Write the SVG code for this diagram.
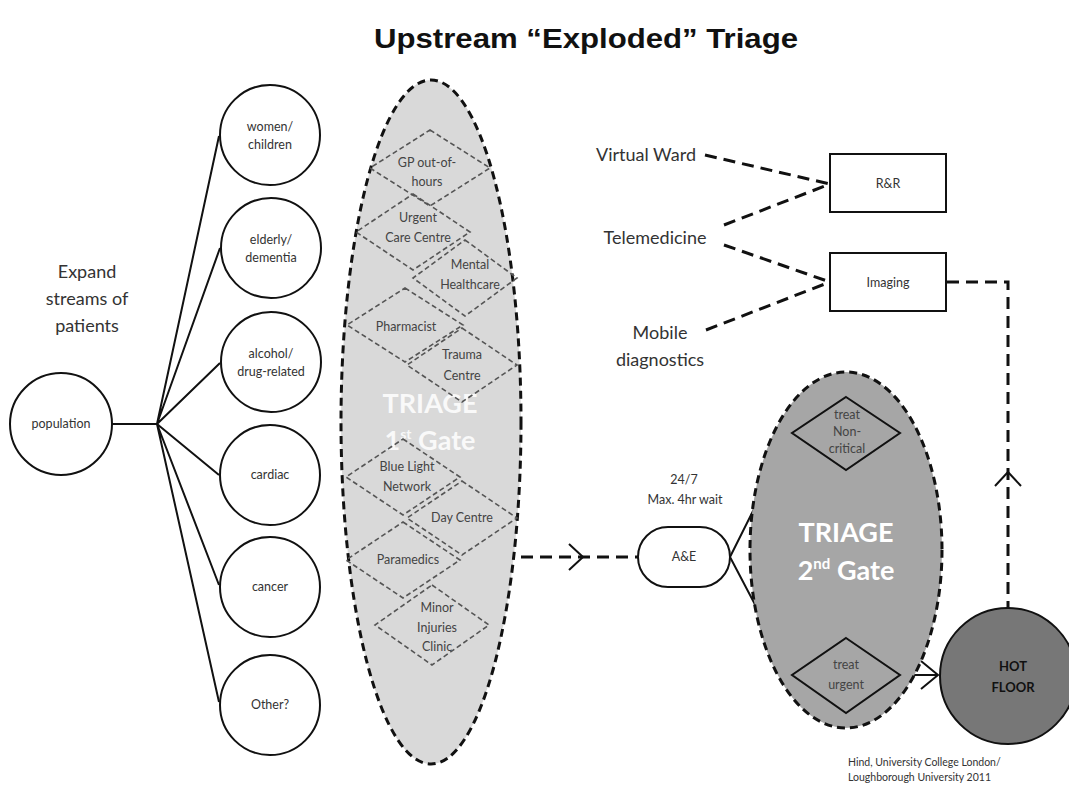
<svg xmlns="http://www.w3.org/2000/svg" width="1069" height="792" viewBox="0 0 1069 792">
<defs>
<style>
.c{fill:#fff;stroke:#111;stroke-width:2}
.t{font-family:Lato,"Open Sans",sans-serif;fill:#333;text-anchor:middle}
.s{font-size:12.5px}
.m{font-size:18px}
.d{fill:none;stroke:#555;stroke-width:1.6;stroke-dasharray:5,3}
.dt{font-family:Lato,"Open Sans",sans-serif;fill:#444;text-anchor:middle;font-size:12.5px}
.ln{fill:none;stroke:#111;stroke-width:2}
.dl{fill:none;stroke:#111;stroke-width:3;stroke-dasharray:12,7}
.w{font-family:Lato,"Open Sans",sans-serif;fill:#fff;font-weight:bold;text-anchor:middle}
</style>
</defs>
<rect width="1069" height="792" fill="#fff"/>
<text id="title" x="586" y="48" font-family="Liberation Sans,Arial,sans-serif" font-weight="bold" font-size="28" text-anchor="middle" textLength="424" lengthAdjust="spacingAndGlyphs" fill="#111">Upstream “Exploded” Triage</text>

<g id="connectors">
<path class="ln" d="M112,424 H157 M157,424 L219,136 M157,424 L220,248 M157,424 L220,363 M157,424 L219,475 M157,424 L219,585 M157,424 L219,702"/>
<path class="dl" d="M521,557 H638"/>
<polyline class="ln" points="569,544 583,557 569,570" stroke-width="2.5"/>
<path class="ln" d="M730,557 L792,433 M730,557 L792,675 M900,675 H938"/>
<polyline class="ln" points="921,661 938,675 921,689" stroke-width="2.5"/>
<path class="dl" d="M705,155 L830,184 M724,225 L830,184 M724,245 L830,282 M706,330 L830,282"/>
<path class="dl" d="M947,282 H1008 V608"/>
<polyline class="ln" points="995,486 1008,472 1021,486" stroke-width="2.5"/>
</g>

<g id="expand"><text class="t m" x="87" y="278">Expand</text><text class="t m" x="87" y="305">streams of</text><text class="t m" x="87" y="332">patients</text></g>

<g id="population"><circle class="c" cx="61" cy="424" r="51"/><text class="t s" x="61" y="428">population</text></g>
<g id="women"><circle class="c" cx="270" cy="135" r="50"/><text class="t s" x="270" y="131">women/</text><text class="t s" x="270" y="149">children</text></g>
<g id="elderly"><circle class="c" cx="271" cy="248" r="50"/><text class="t s" x="271" y="244">elderly/</text><text class="t s" x="271" y="262">dementia</text></g>
<g id="alcohol"><circle class="c" cx="271" cy="362" r="50"/><text class="t s" x="271" y="358">alcohol/</text><text class="t s" x="271" y="376">drug-related</text></g>
<g id="cardiac"><circle class="c" cx="270" cy="475" r="50"/><text class="t s" x="270" y="479">cardiac</text></g>
<g id="cancer"><circle class="c" cx="270" cy="587" r="50"/><text class="t s" x="270" y="591">cancer</text></g>
<g id="other"><circle class="c" cx="270" cy="705" r="50"/><text class="t s" x="270" y="709">Other?</text></g>

<g id="triage1">
<ellipse cx="431" cy="422" rx="90" ry="342" fill="#d9d9d9" stroke="#111" stroke-width="3" stroke-dasharray="8,5"/>
<text class="w" x="430" y="413" font-size="27" fill-opacity="0.85">TRIAGE</text>
<text class="w" x="430" y="450" font-size="27" fill-opacity="0.85">1<tspan font-size="14" dy="-11">st</tspan><tspan dy="11"> Gate</tspan></text>
<g id="gp"><polygon class="d" points="430,130 490,168 430,206 370,168"/><text class="dt" x="427" y="167">GP out-of-</text><text class="dt" x="427" y="186">hours</text></g>
<g id="urgent"><polygon class="d" points="413,194 470,232 413,270 356,232"/><text class="dt" x="418" y="222">Urgent</text><text class="dt" x="418" y="242">Care Centre</text></g>
<g id="mental"><polygon class="d" points="465,240 517,278 465,316 413,278"/><text class="dt" x="470" y="269">Mental</text><text class="dt" x="470" y="289">Healthcare</text></g>
<g id="pharmacist"><polygon class="d" points="405,288 463,325 405,362 347,325"/><text class="dt" x="406" y="331">Pharmacist</text></g>
<g id="trauma"><polygon class="d" points="462,328 517,365 462,402 407,365"/><text class="dt" x="462" y="359">Trauma</text><text class="dt" x="462" y="380">Centre</text></g>
<g id="bluelight"><polygon class="d" points="403,439 460,477 403,515 346,477"/><text class="dt" x="407" y="471">Blue Light</text><text class="dt" x="407" y="491">Network</text></g>
<g id="daycentre"><polygon class="d" points="462,481 517,518 462,555 407,518"/><text class="dt" x="462" y="522">Day Centre</text></g>
<g id="paramedics"><polygon class="d" points="403,522 460,560 403,598 346,560"/><text class="dt" x="408" y="564">Paramedics</text></g>
<g id="minor"><polygon class="d" points="432,585 489,625 432,665 375,625"/><text class="dt" x="437" y="612">Minor</text><text class="dt" x="437" y="632">Injuries</text><text class="dt" x="437" y="651">Clinic</text></g>
</g>

<g id="ae"><rect class="c" x="638" y="527" width="92" height="60" rx="30"/><text class="t s" x="684" y="561">A&amp;E</text></g>
<g id="wait"><text class="t s" x="684" y="484">24/7</text><text class="t s" x="685" y="504">Max. 4hr wait</text></g>

<g id="triage2">
<ellipse cx="846" cy="550" rx="96" ry="178" fill="#a6a6a6" stroke="#111" stroke-width="3" stroke-dasharray="8,5"/>
<text class="w" x="846" y="542" font-size="27">TRIAGE</text>
<text class="w" x="846" y="580" font-size="27">2<tspan font-size="15" dy="-11">nd</tspan><tspan dy="11"> Gate</tspan></text>
</g>
<g id="noncritical"><polygon fill="#a6a6a6" stroke="#111" stroke-width="2" points="846,397 900,433 846,470 792,433"/><text class="dt" x="847" y="419" font-size="11">treat</text><text class="dt" x="847" y="436" font-size="11">Non-</text><text class="dt" x="847" y="453" font-size="11">critical</text></g>
<g id="urgenttreat"><polygon fill="#a6a6a6" stroke="#111" stroke-width="2" points="846,638 900,675 846,713 792,675"/><text class="dt" x="846" y="669" font-size="11">treat</text><text class="dt" x="846" y="689" font-size="11">urgent</text></g>

<g id="hotfloor"><circle cx="1008" cy="676" r="68" fill="#777" stroke="#111" stroke-width="2"/><text x="1013" y="671" font-family="Lato,'Open Sans',sans-serif" font-weight="bold" font-size="13" text-anchor="middle" fill="#111">HOT</text><text x="1013" y="692" font-family="Lato,'Open Sans',sans-serif" font-weight="bold" font-size="13" text-anchor="middle" fill="#111">FLOOR</text></g>

<g id="rr"><rect class="c" x="830" y="154" width="116" height="58"/><text class="t s" x="888" y="188">R&amp;R</text></g>
<g id="imaging"><rect class="c" x="830" y="253" width="116" height="58"/><text class="t s" x="888" y="287">Imaging</text></g>

<g id="virtual"><text class="t m" x="646" y="161">Virtual Ward</text></g>
<g id="telemedicine"><text class="t m" x="655" y="244">Telemedicine</text></g>
<g id="mobile"><text class="t m" x="660" y="339">Mobile</text><text class="t m" x="660" y="366">diagnostics</text></g>

<g id="credit"><text x="848" y="766" font-family="Lato,'Open Sans',sans-serif" font-size="10.5" fill="#333">Hind, University College London/</text><text x="848" y="781" font-family="Lato,'Open Sans',sans-serif" font-size="10.5" fill="#333">Loughborough University 2011</text></g>
</svg>
